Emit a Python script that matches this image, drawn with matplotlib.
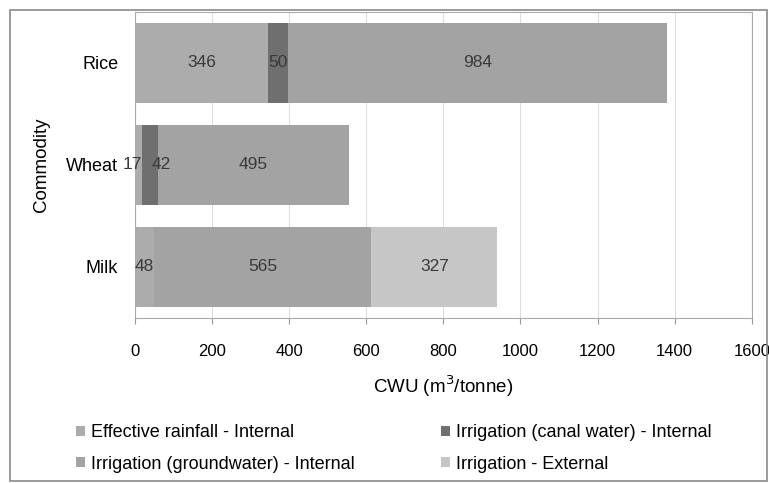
import matplotlib.pyplot as plt
import numpy as np
from matplotlib.patches import Rectangle

plt.rcParams["font.family"] = ["Liberation Sans Narrow", "Liberation Sans", "DejaVu Sans"]

commodities = ["Rice", "Wheat", "Milk"]
series_names = [
    "Effective rainfall - Internal",
    "Irrigation (canal water) - Internal",
    "Irrigation (groundwater) - Internal",
    "Irrigation - External",
]
rainfall = [346, 17, 48]
canal = [50, 42, 0]
groundwater = [984, 495, 565]
external = [0, 0, 327]
colors = ["#acacac", "#6f6f6f", "#a3a3a3", "#c6c6c6"]

fig = plt.figure(figsize=(7.69, 4.83), dpi=100)
ax = fig.add_axes([0.1756, 0.3416, 0.802, 0.634])

# outer chart border
fig.patches.append(Rectangle((0.013, 0.004), 0.985, 0.975, transform=fig.transFigure,
                             fill=False, edgecolor="#8a8a8a", linewidth=1.2))

# small label nudges so the tiny wheat segments don't collide
nudge = {(0, 1): -4, (1, 1): 8}

y = np.arange(len(commodities))[::-1]
left = np.zeros(len(commodities))
handles = []
for si, (name, vals, c) in enumerate(zip(series_names, [rainfall, canal, groundwater, external], colors)):
    vals = np.array(vals, dtype=float)
    bars = ax.barh(y, vals, left=left, height=0.78, color=c, label=name, zorder=3)
    handles.append(bars)
    for ci, v in enumerate(vals):
        if v > 0:
            ax.annotate(str(int(v)), (left[ci] + v / 2, y[ci]),
                        xytext=(nudge.get((si, ci), 0), 0), textcoords="offset points",
                        ha="center", va="center", fontsize=12.5, color="#3a3a3a", zorder=4)
    left += vals

ax.set_xlim(0, 1600)
ax.set_ylim(-0.5, 2.5)
ax.set_xticks(np.arange(0, 1601, 200))
ax.set_yticks(y)
ax.set_yticklabels(commodities, fontsize=13)
ax.tick_params(axis="x", labelsize=12, length=4, color="#999999", pad=15)
ax.tick_params(axis="y", length=0, pad=12)
ax.grid(axis="x", color="#dddddd", linewidth=0.8, zorder=0)
for s in ["top", "right", "left", "bottom"]:
    ax.spines[s].set_color("#aaaaaa")
ax.set_xlabel("CWU (m$^3$/tonne)", fontsize=13.5, labelpad=10)
ax.set_ylabel("Commodity", fontsize=13.5, labelpad=12)

order = [0, 2, 1, 3]
fig.legend([handles[i] for i in order], [series_names[i] for i in order],
           loc="lower left", bbox_to_anchor=(0.078, -0.012), ncol=2, frameon=False,
           fontsize=13, handlelength=0.5, handleheight=0.5, handletextpad=0.3,
           columnspacing=4.8, labelspacing=0.8)

fig.savefig("out.png", dpi=100)
